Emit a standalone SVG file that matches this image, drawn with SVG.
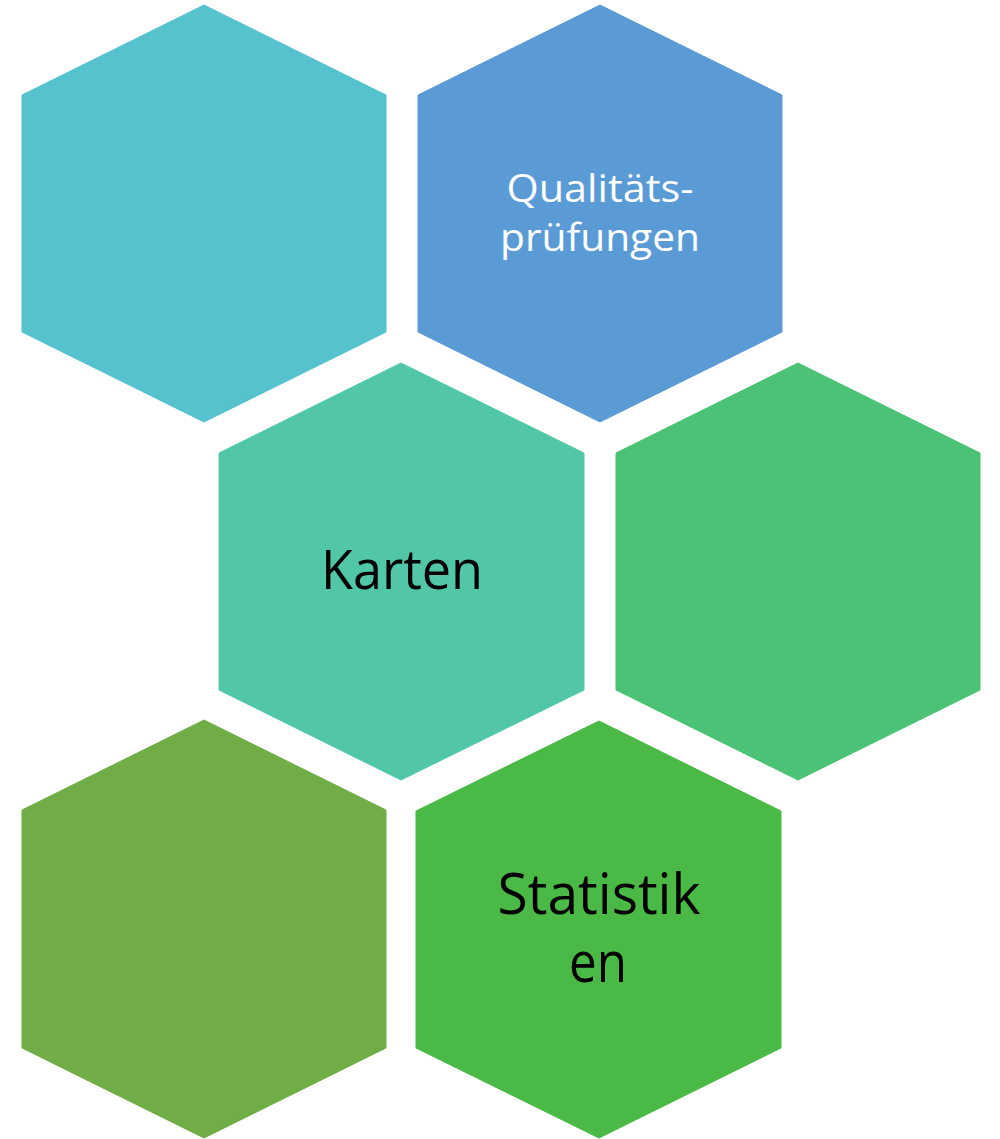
<svg xmlns="http://www.w3.org/2000/svg" width="1000" height="1139" viewBox="0 0 1000 1139">
<style>
.hex{stroke-linejoin:round;stroke-width:1}
.t{font-family:"Open Sans","Liberation Sans",Arial,sans-serif;text-anchor:middle}
</style>
<rect width="1000" height="1139" fill="#ffffff"/>
<g id="hex1"><polygon class="hex" fill="#55C2CE" stroke="#55C2CE" points="204,5 386,95 386,332 204,422 22,332 22,95"/></g>
<g id="hex2"><polygon class="hex" fill="#5B9BD5" stroke="#5B9BD5" points="600,5 782,95 782,332 600,422 418,332 418,95"/>
<text class="t" x="600" y="202" font-size="38" fill="#ffffff" textLength="187" lengthAdjust="spacingAndGlyphs">Qualitäts-</text>
<text class="t" x="600" y="251" font-size="38" fill="#ffffff" textLength="200" lengthAdjust="spacingAndGlyphs">prüfungen</text></g>
<g id="hex3"><polygon class="hex" fill="#51C7A8" stroke="#51C7A8" points="401,363 584,453 584,690 401,780 219,690 219,453"/>
<text class="t" x="402" y="589" font-size="54" fill="#000000" textLength="162" lengthAdjust="spacingAndGlyphs">Karten</text></g>
<g id="hex4"><polygon class="hex" fill="#4BC275" stroke="#4BC275" points="798,363 980,453 980,690 798,780 616,690 616,453"/>
</g>
<g id="hex5"><polygon class="hex" fill="#70AD47" stroke="#70AD47" points="204,720 386,810 386,1048 204,1138 22,1048 22,810"/></g>
<g id="hex6"><polygon class="hex" fill="#4AB946" stroke="#4AB946" points="599,721 781,811 781,1048 599,1138 416,1048 416,811"/>
<text class="t" x="599" y="914" font-size="57" fill="#000000" textLength="203" lengthAdjust="spacingAndGlyphs">Statistik</text>
<text class="t" x="598" y="982" font-size="57" fill="#000000" textLength="58" lengthAdjust="spacingAndGlyphs">en</text></g>
<g id="connectors"></g>
</svg>
